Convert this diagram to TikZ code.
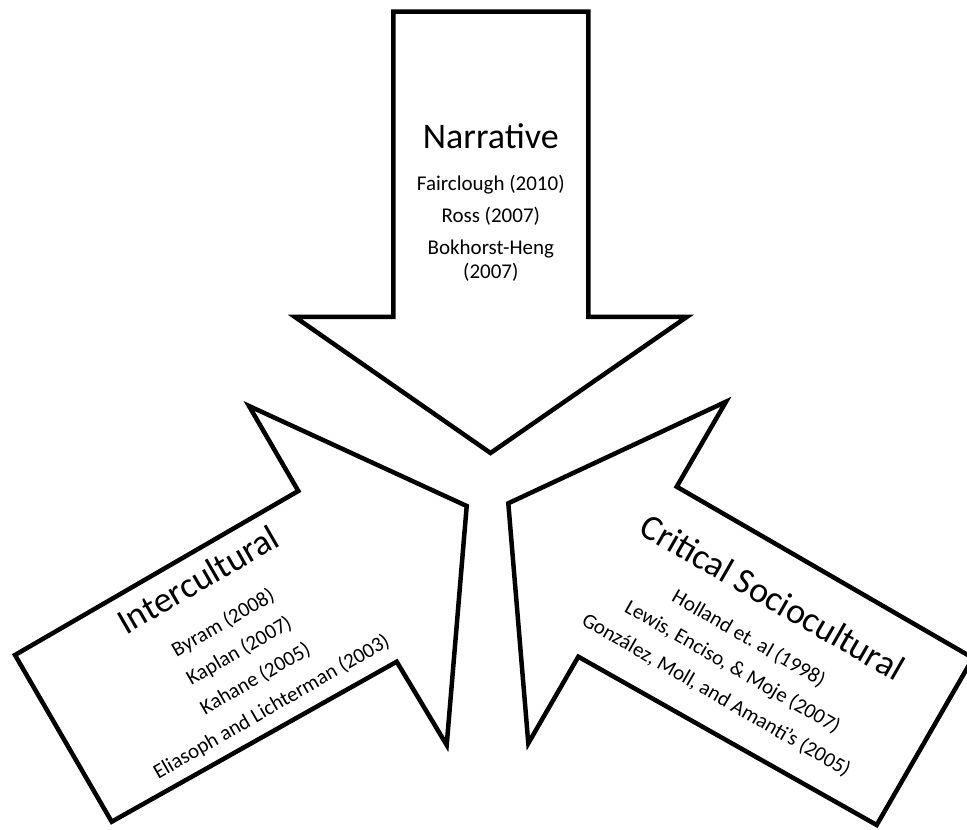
\documentclass[tikz,border=0pt]{standalone}
\usepackage{fontspec}
\setmainfont{Carlito}
\frenchspacing
\begin{document}
\begin{tikzpicture}[x=1pt,y=1pt,
  arrowshape/.style={draw=black,fill=white,line width=4.5pt,line join=miter},
  headtext/.style={anchor=base,inner sep=0pt,font=\fontsize{36}{40}\selectfont},
  reftext/.style={anchor=base,inner sep=0pt,font=\fontsize{21}{25}\selectfont}]
\fill[white] (0,0) rectangle (967,830);
\useasboundingbox (0,0) rectangle (967,830);

% Narrative: block arrow pointing down
\draw[arrowshape] (393.3,818.3) -- (588.3,818.3) -- (588.3,513) -- (686.7,513)
  -- (490.5,377) -- (295,513) -- (393.3,513) -- cycle;
\node[headtext] (narr) at (490.8,681) {Narrative};
\node[reftext] (fair) at (490.8,639) {Fairclough (2010)};
\node[reftext] (ross) at (490.8,607.3) {Ross (2007)};
\node[reftext] (bok1) at (490.8,575) {Bokhorst-Heng};
\node[reftext] (bok2) at (490.8,551.7) {(2007)};

% Intercultural: block arrow pointing up and to the right
\draw[arrowshape] (15,175) -- (298.3,339) -- (249,424) -- (466.7,324)
  -- (446.7,85) -- (396.7,168.3) -- (111.7,8.3) -- cycle;
\begin{scope}[shift={(63.3,91.7)},rotate=30,transform shape]
  \node[headtext] (inter) at (196,58) {Intercultural};
  \node[reftext] (byram) at (196,13.7) {Byram (2008)};
  \node[reftext] (kaplan) at (196,-18.6) {Kaplan (2007)};
  \node[reftext] (kahane) at (196,-50.9) {Kahane (2005)};
  \node[reftext] (elias) at (196,-83.2) {Eliasoph and Lichterman (2003)};
\end{scope}

% Critical Sociocultural: block arrow pointing up and to the left
\draw[arrowshape] (508.3,326.7) -- (726,428.3) -- (676.7,343.3) -- (973,172)
  -- (876.7,5) -- (578.3,173.3) -- (528.3,86.7) -- cycle;
\begin{scope}[shift={(508.3,326.7)},rotate=-30,transform shape]
  \node[headtext] (crit) at (276,38.7) {Critical Sociocultural};
  \node[reftext] (holland) at (276,-3.4) {Holland et. al (1998)};
  \node[reftext] (lewis) at (276,-35.9) {Lewis, Enciso, \& Moje (2007)};
  \node[reftext] (gonz) at (276,-68.4) {González, Moll, and Amanti’s (2005)};
\end{scope}
\end{tikzpicture}
\end{document}
